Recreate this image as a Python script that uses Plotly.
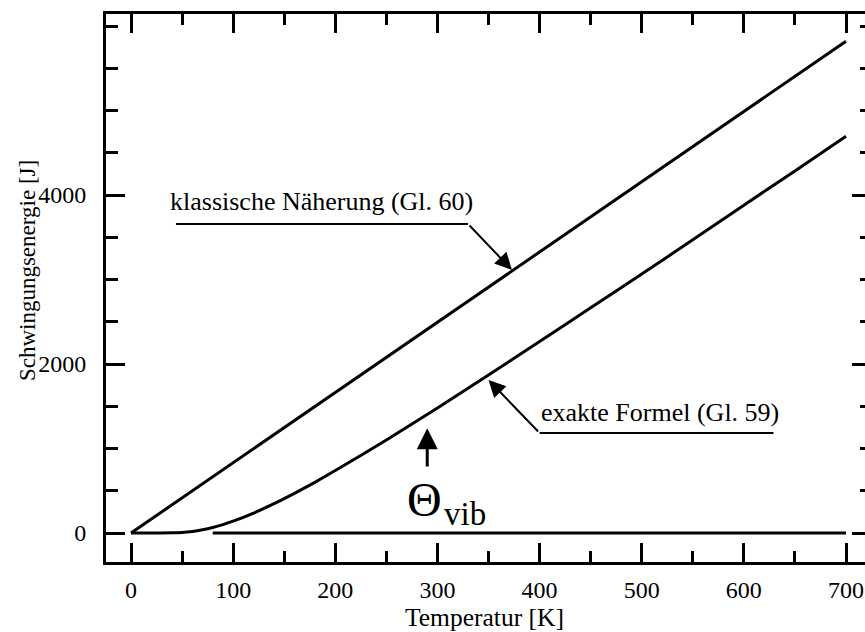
import plotly.graph_objects as go

# Data
T_exact = [0, 20, 40, 50, 60, 70, 80, 90, 100, 120, 140, 160, 180, 200, 250,
           300, 350, 400, 450, 500, 550, 600, 650, 700]
E_exact = [0, 0, 2, 7, 19, 39, 66, 100, 140, 236, 348, 470, 600, 739, 1100,
           1480, 1870, 2265, 2665, 3065, 3470, 3880, 4285, 4695]

T_class = [0, 100, 200, 300, 400, 500, 600, 700]
E_class = [0, 830, 1660, 2495, 3325, 4160, 4990, 5820]

T_zero = [80, 700]
E_zero = [0, 0]

x_ticks = [0, 100, 200, 300, 400, 500, 600, 700]
y_ticks = [0, 2000, 4000]

FONT = "Liberation Serif, Times New Roman, serif"
XR = [-24.5, 718.6]
YR = [-343, 6142]

fig = go.Figure()
line = dict(color="black", width=3)
fig.add_trace(go.Scatter(x=T_class, y=E_class, mode="lines", line=line,
                         showlegend=False, hoverinfo="skip"))
fig.add_trace(go.Scatter(x=T_exact, y=E_exact, mode="lines",
                         line=dict(color="black", width=3, shape="spline", smoothing=0.6),
                         showlegend=False, hoverinfo="skip"))
fig.add_trace(go.Scatter(x=T_zero, y=E_zero, mode="lines", line=line,
                         showlegend=False, hoverinfo="skip", yaxis="y2"))

# leader lines (horizontal parts)
fig.add_shape(type="line", x0=44, x1=330, y0=3657, y1=3657,
              line=dict(color="black", width=2))
fig.add_shape(type="line", x0=400, x1=629, y0=1183, y1=1183,
              line=dict(color="black", width=2))

ann = []
# arrows
ann.append(dict(x=373, y=3112, ax=330, ay=3657, axref="x", ayref="y", xref="x", yref="y",
                text="", showarrow=True, arrowhead=2, arrowsize=1.7, arrowwidth=2,
                arrowcolor="black", standoff=0))
ann.append(dict(x=350, y=1811, ax=400, ay=1183, axref="x", ayref="y", xref="x", yref="y",
                text="", showarrow=True, arrowhead=2, arrowsize=1.7, arrowwidth=2,
                arrowcolor="black", standoff=0))
ann.append(dict(x=290, y=1240, ax=290, ay=769, axref="x", ayref="y", xref="x", yref="y",
                text="", showarrow=True, arrowhead=2, arrowsize=1.4, arrowwidth=3,
                arrowcolor="black", standoff=0))
# texts
ann.append(dict(x=186, y=3929, xref="x", yref="y", text="klassische Näherung (Gl. 60)",
                showarrow=False, font=dict(family=FONT, size=26, color="black"),
                xanchor="center", yanchor="middle"))
ann.append(dict(x=518, y=1432, xref="x", yref="y", text="exakte Formel (Gl. 59)",
                showarrow=False, font=dict(family=FONT, size=26, color="black"),
                xanchor="center", yanchor="middle"))
ann.append(dict(x=268, y=402, xref="x", yref="y", text="Θ",
                showarrow=False, font=dict(family=FONT, size=48, color="black"),
                xanchor="left", yanchor="middle"))
ann.append(dict(x=304, y=231, xref="x", yref="y", text="vib",
                showarrow=False, font=dict(family=FONT, size=33, color="black"),
                xanchor="left", yanchor="middle"))
# axis titles
ann.append(dict(x=0.4993, y=-0.102, xref="paper", yref="paper", text="Temperatur [K]",
                showarrow=False, font=dict(family=FONT, size=25.5, color="black"),
                xanchor="center", yanchor="middle"))
ann.append(dict(x=-0.104, y=0.531, xref="paper", yref="paper", text="Schwingungsenergie [J]",
                showarrow=False, textangle=-90, font=dict(family=FONT, size=23, color="black"),
                xanchor="center", yanchor="middle"))

fig.update_layout(
    width=865, height=632,
    margin=dict(l=106, r=0, t=14, b=70),
    paper_bgcolor="white", plot_bgcolor="white",
    font=dict(family=FONT, size=24, color="black"),
    annotations=ann,
    xaxis=dict(range=XR, showgrid=False, zeroline=False, showline=True, linewidth=3,
               linecolor="black", mirror="ticks", ticks="inside", ticklen=19, tickwidth=3,
               tickcolor="black", tickvals=x_ticks, ticktext=[str(v) for v in x_ticks],
               minor=dict(dtick=50, tick0=0, ticks="inside", ticklen=11, tickwidth=3,
                          tickcolor="black"),
               tickfont=dict(family=FONT, size=24, color="black"), ticklabelstandoff=4),
    yaxis=dict(range=YR, showgrid=False, zeroline=False, showline=True, linewidth=3,
               linecolor="black", mirror=False, ticks="inside", ticklen=19, tickwidth=3,
               tickcolor="black", tickvals=y_ticks, ticktext=[str(v) for v in y_ticks],
               minor=dict(dtick=500, tick0=0, ticks="inside", ticklen=12, tickwidth=3,
                          tickcolor="black"),
               tickfont=dict(family=FONT, size=24, color="black"), ticklabelstandoff=12),
    yaxis2=dict(range=YR, overlaying="y", side="right", showgrid=False, zeroline=False,
                showline=False, ticks="inside", ticklen=13, tickwidth=3, tickcolor="black",
                tickvals=y_ticks, showticklabels=False,
                minor=dict(dtick=500, tick0=0, ticks="inside", ticklen=5, tickwidth=3,
                           tickcolor="black")),
)

fig.write_html("out.html")
